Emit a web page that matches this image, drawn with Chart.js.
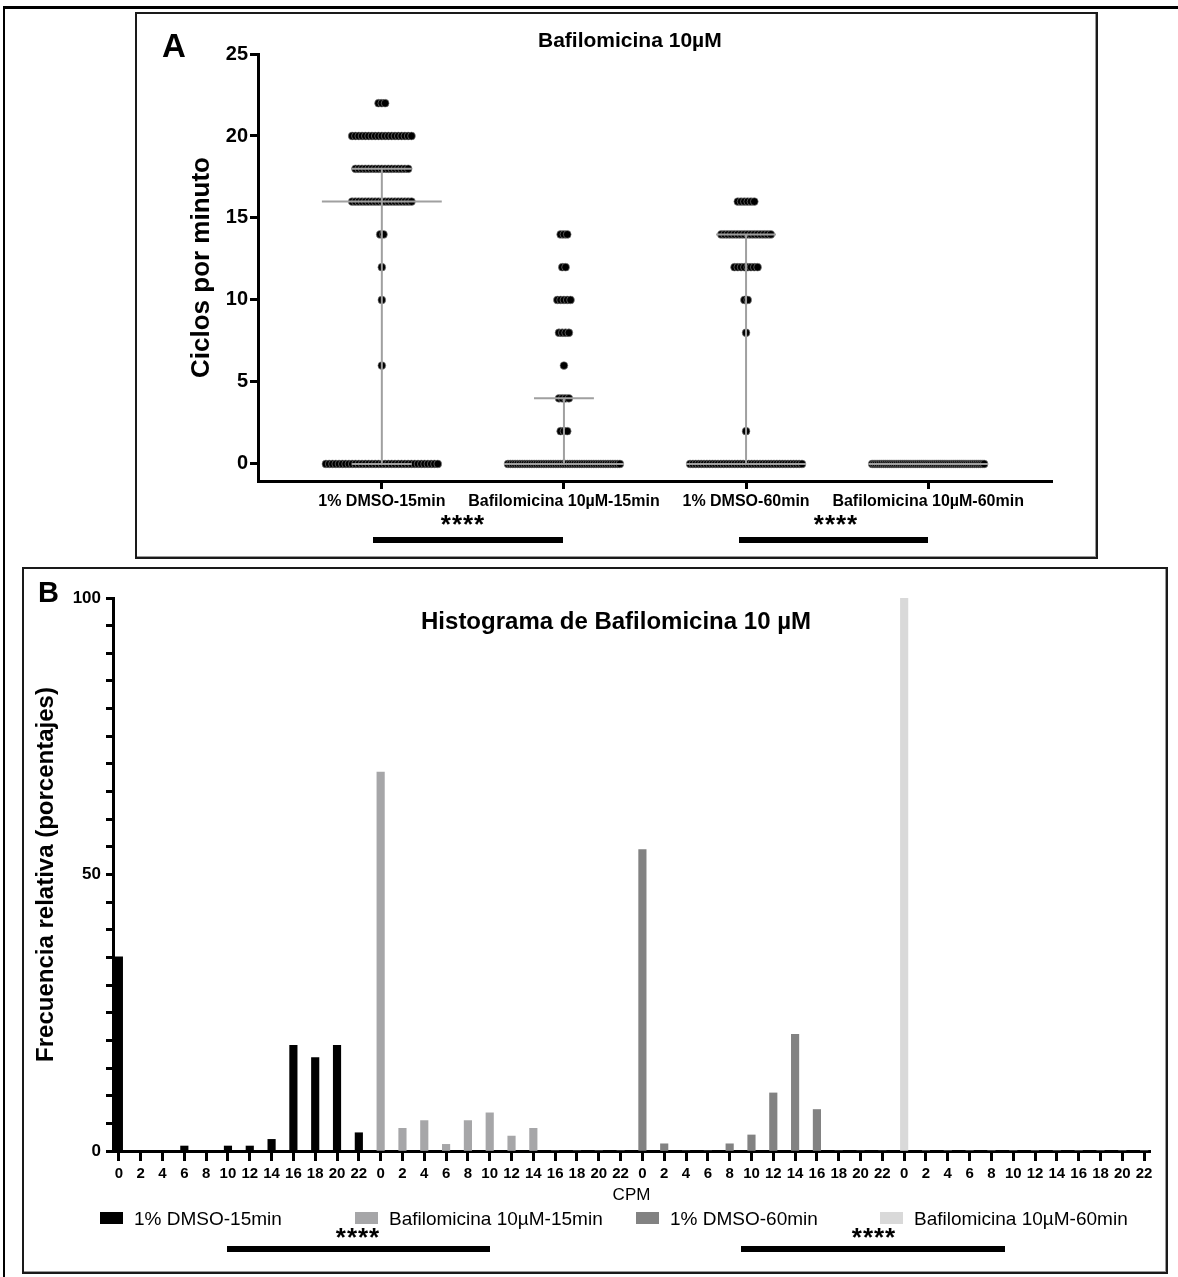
<!DOCTYPE html>
<html>
<head>
<meta charset="utf-8">
<script src="https://cdn.jsdelivr.net/npm/chart.js@4.4.0/dist/chart.umd.min.js"></script>
<style>
  body { margin: 0; background: #fff; font-family: "Liberation Sans", Arial, sans-serif; }
  #page { position: relative; width: 1178px; height: 1277px; overflow: hidden; background: #fff; }
  .frame { position: absolute; box-sizing: border-box; border: 2px solid #1a1a1a; box-shadow: inset -1px -1px 0 #999; }
  .txt { position: absolute; white-space: nowrap; color: #000; }
  .stars { position: absolute; font-size: 26px; line-height: 26px; font-weight: bold; letter-spacing: 1px; transform: translateX(-50%); }
  .sig { position: absolute; height: 6px; background: #000; }
  .lg-box { position: absolute; width: 23px; height: 12px; }
  .lg-txt { position: absolute; font-size: 19px; line-height: 19px; white-space: nowrap; }
  canvas { position: absolute; }
</style>
</head>
<body>
<div id="page">
  <div style="position:absolute; left:3px; top:6px; width:1300px; height:1400px; border-left:2px solid #000; border-top:3px solid #000;"></div>

  <!-- panel A -->
  <div class="frame" style="left:135px; top:12px; width:963px; height:547px;"></div>
  <canvas id="chartA" width="955" height="542" style="left:140px; top:14px;"></canvas>
  <div class="txt" style="left:162px; top:29px; font-size:33px; line-height:33px; font-weight:bold;">A</div>
  <div class="txt" style="left:538px; top:29px; font-size:21px; line-height:21px; font-weight:bold;">Bafilomicina 10µM</div>
  <div class="stars" style="left:463px; top:511px;">****</div>
  <div class="sig" style="left:373px; top:537px; width:190px;"></div>
  <div class="stars" style="left:836px; top:511px;">****</div>
  <div class="sig" style="left:739px; top:537px; width:189px;"></div>

  <!-- panel B -->
  <div class="frame" style="left:22px; top:567px; width:1146px; height:707px;"></div>
  <canvas id="chartB" width="1141" height="702" style="left:24px; top:569px;"></canvas>
  <div class="txt" style="left:38px; top:578px; font-size:29px; line-height:29px; font-weight:bold;">B</div>
  <div class="txt" style="left:616px; top:609px; font-size:24px; line-height:24px; font-weight:bold; transform:translateX(-50%);">Histograma de Bafilomicina 10 µM</div>
  <div id="legendB"></div>
  <div class="stars" style="left:358px; top:1224px;">****</div>
  <div class="sig" style="left:227px; top:1246px; width:263px;"></div>
  <div class="stars" style="left:874px; top:1224px;">****</div>
  <div class="sig" style="left:741px; top:1246px; width:264px;"></div>
</div>

<script>
// grupos y bins de CPM
const groupLabels = ['1% DMSO-15min', 'Bafilomicina 10µM-15min', '1% DMSO-60min', 'Bafilomicina 10µM-60min'];
const cpmBins = [0, 2, 4, 6, 8, 10, 12, 14, 16, 18, 20, 22];

const cellsDmso15 = [35, 0, 0, 1, 0, 1, 1, 2, 19, 17, 19, 3];
const cellsBaf15 = [48, 3, 4, 1, 4, 5, 2, 3, 0, 0, 0, 0];
const cellsDmso60 = [41, 1, 0, 0, 1, 2, 8, 16, 6, 0, 0, 0];
const cellsBaf60 = [60, 0, 0, 0, 0, 0, 0, 0, 0, 0, 0, 0];

// mediana y rango intercuartil
const medianCpm = [16, 0, 0, 0];
const q1Cpm = [0, 0, 0, 0];
const q3Cpm = [18, 4, 14, 0];

// Panel B: frecuencia relativa (%)
const freqDmso15 = [35.1, 0, 0, 0.9, 0, 0.9, 0.9, 2.1, 19.1, 16.9, 19.1, 3.3];
const freqBaf15 = [68.5, 4.1, 5.5, 1.2, 5.5, 6.9, 2.7, 4.1, 0, 0, 0, 0];
const freqDmso60 = [54.5, 1.3, 0, 0, 1.3, 2.9, 10.5, 21.1, 7.5, 0, 0, 0];
const freqBaf60 = [100, 0, 0, 0, 0, 0, 0, 0, 0, 0, 0, 0];

const barColors = ['#000000', '#a6a6a8', '#828282', '#d9d9d9'];

Chart.defaults.font.family = '"Liberation Sans", Arial, sans-serif';
Chart.defaults.color = '#000';

// 1. Dot plot (A)
const UNIT_PX = 182.3; // px entre grupos en el eje x

function swarm(counts, g) {
    const pts = [];
    counts.forEach((n, i) => {
        if (!n) return;
        const step = Math.min(3.3, 112 / Math.max(n - 1, 1)) / UNIT_PX;
        for (let k = 0; k < n; k++) {
            pts.push({ x: g + (k - (n - 1) / 2) * step, y: cpmBins[i] });
        }
    });
    return pts;
}

function iqrLines(g) {
    const cap = 30 / UNIT_PX, med = 60 / UNIT_PX;
    return [
        { x: g - med, y: medianCpm[g] }, { x: g + med, y: medianCpm[g] }, { x: g, y: null },
        { x: g, y: q1Cpm[g] }, { x: g, y: q3Cpm[g] }, { x: g, y: null },
        { x: g - cap, y: q3Cpm[g] }, { x: g + cap, y: q3Cpm[g] }, { x: g, y: null },
        { x: g - cap, y: q1Cpm[g] }, { x: g + cap, y: q1Cpm[g] }
    ];
}

const dotSets = [cellsDmso15, cellsBaf15, cellsDmso60, cellsBaf60].map((c, g) => ({
    label: groupLabels[g],
    data: swarm(c, g),
    pointRadius: 3.9,
    pointBackgroundColor: '#000',
    pointBorderColor: '#8c8c8c',
    pointBorderWidth: 0.6,
    order: 1
}));

const lineSets = [0, 1, 2, 3].map(g => ({
    label: 'iqr ' + g,
    data: iqrLines(g),
    showLine: true,
    pointRadius: 0,
    borderColor: '#a0a0a0',
    borderWidth: 2,
    spanGaps: false,
    order: 0
}));

new Chart(document.getElementById('chartA').getContext('2d'), {
    type: 'scatter',
    data: { datasets: [...dotSets, ...lineSets] },
    options: {
        responsive: false,
        animation: false,
        layout: { padding: { left: 46.5, right: 43, top: 40, bottom: 40 } },
        plugins: { legend: { display: false }, tooltip: { enabled: false } },
        scales: {
            x: {
                type: 'linear', min: -0.68, max: 3.68, offset: false,
                grid: { drawOnChartArea: false, tickLength: 8, tickWidth: 3, tickColor: '#000' },
                border: { color: '#000', width: 3 },
                ticks: {
                    stepSize: 1, includeBounds: false, autoSkip: false, maxRotation: 0, padding: 3,
                    font: { size: 16, weight: 'bold' },
                    callback: v => Number.isInteger(v) ? groupLabels[v] : ''
                },
                afterFit: s => { s.height = 35; }
            },
            y: {
                min: -1.04, max: 25,
                grid: { drawOnChartArea: false, tickLength: 8, tickWidth: 3, tickColor: '#000' },
                border: { color: '#000', width: 3 },
                ticks: { stepSize: 5, includeBounds: false, padding: 2, font: { size: 20, weight: 'bold' } },
                title: { display: true, text: 'Ciclos por minuto', font: { size: 26, weight: 'bold' }, padding: 0 },
                afterFit: s => { s.width = 71.5; }
            }
        }
    }
});

// 2. Histograma (B)
const freqSets = [freqDmso15, freqBaf15, freqDmso60, freqBaf60].map((vals, g) => ({
    label: groupLabels[g],
    data: vals.map((v, i) => ({ x: g * cpmBins.length + i, y: v })),
    backgroundColor: barColors[g],
    barThickness: 7.5,
    grouped: false
}));

new Chart(document.getElementById('chartB').getContext('2d'), {
    type: 'bar',
    data: { datasets: freqSets },
    options: {
        responsive: false,
        animation: false,
        layout: { padding: { left: 7.5, right: 15, top: 29, bottom: 65 } },
        plugins: { legend: { display: false }, tooltip: { enabled: false } },
        scales: {
            x: {
                type: 'linear', min: -0.27, max: 47.27, offset: false,
                grid: { drawOnChartArea: false, offset: false, tickLength: 10, tickWidth: 3, tickColor: '#000' },
                border: { color: '#000', width: 3 },
                ticks: {
                    stepSize: 1, includeBounds: false, autoSkip: false, maxRotation: 0, padding: 4,
                    font: { size: 15, weight: 'bold' },
                    callback: v => Number.isInteger(v) ? String(cpmBins[v % cpmBins.length]) : ''
                },
                title: { display: true, text: 'CPM', font: { size: 17 }, padding: 0 },
                afterFit: s => { s.height = 55; }
            },
            y: {
                min: 0, max: 100,
                grid: { drawOnChartArea: false, tickLength: 7, tickWidth: 3, tickColor: '#000' },
                border: { color: '#000', width: 3 },
                ticks: {
                    stepSize: 5, autoSkip: false, padding: 5,
                    font: { size: 17, weight: 'bold' },
                    callback: v => v % 50 === 0 ? String(v) : ''
                },
                title: { display: true, text: 'Frecuencia relativa (porcentajes)', font: { size: 24, weight: 'bold' }, padding: 0 },
                afterFit: s => { s.width = 81.5; }
            }
        }
    }
});

// 3. Leyenda del histograma
const legendBoxX = [100, 355, 636, 880];
const legend = document.getElementById('legendB');
legend.innerHTML = groupLabels.map((name, g) => `
    <div class="lg-box" style="left:${legendBoxX[g]}px; top:1212px; background:${barColors[g]};"></div>
    <div class="lg-txt" style="left:${legendBoxX[g] + 34}px; top:1209px;">${name}</div>
`).join('');
</script>
</body>
</html>
